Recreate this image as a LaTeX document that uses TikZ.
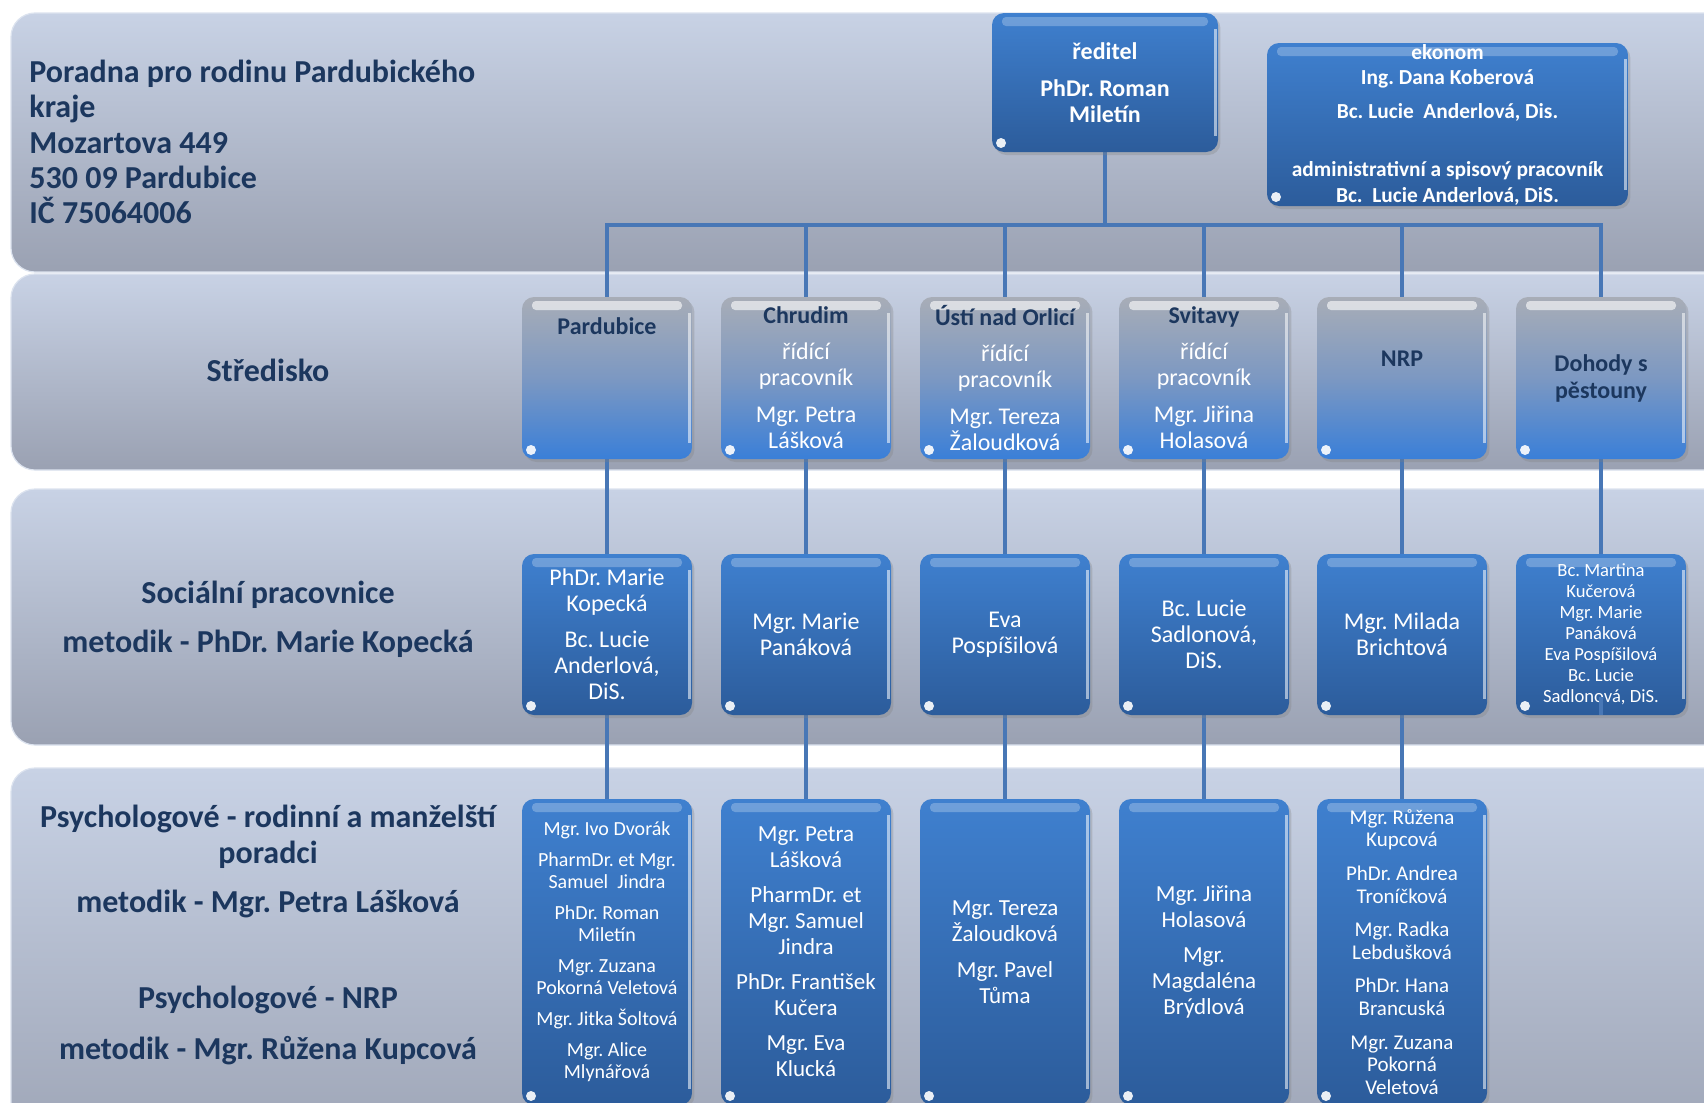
\documentclass[tikz,border=0pt]{standalone}
\usepackage{fontspec}
\setmainfont{Carlito}
\usetikzlibrary{calc,shadows}
\pgfdeclarelayer{bands}
\pgfdeclarelayer{links}
\pgfsetlayers{bands,links,main}
\definecolor{bandtop}{HTML}{C8D2E5}
\definecolor{bandbot}{HTML}{9AA1B2}
\definecolor{bandedge}{HTML}{DCE3EF}
\definecolor{boxtop}{HTML}{3F80CF}
\definecolor{boxbot}{HTML}{2C5C9B}
\definecolor{greytop}{HTML}{A8ADB7}
\definecolor{greymid}{HTML}{7C98C2}
\definecolor{greybot}{HTML}{3A7FD8}
\definecolor{navy}{HTML}{1C375E}
\definecolor{linkc}{HTML}{4877B6}
\tikzset{
  band/.style={rounded corners=12pt, top color=bandtop, bottom color=bandbot, draw=bandedge, line width=.6pt},
  gloss/.style={path picture={
    \fill[white,opacity=#1,rounded corners=2pt]
      ($(path picture bounding box.north west)+(10,4)$) rectangle ($(path picture bounding box.north east)+(-10,13)$);
    \draw[white,opacity=.55,line width=1.2pt]
      ($(path picture bounding box.north east)+(-2.5,16)$) -- ($(path picture bounding box.south east)+(-2.5,-16)$);
    \fill[white,opacity=.9] ($(path picture bounding box.south west)+(9,-9)$) circle[radius=5];
  }},
  boxbase/.style={rounded corners=6pt, inner sep=0pt, align=center, text=white,
    drop shadow={shadow xshift=1.2pt,shadow yshift=-1.5pt,opacity=.3}},
  bluebox/.style={boxbase, top color=boxtop, bottom color=boxbot, gloss=.25},
  greybox/.style={boxbase, top color=greytop, bottom color=greybot, middle color=greymid, gloss=.6},
  colw/.style={minimum width=85pt},
  rowtwo/.style={colw, minimum height=81pt},
  rowthree/.style={colw, minimum height=80.5pt},
  rowfour/.style={colw, minimum height=153pt},
  ftwelve/.style={font=\fontsize{12pt}{13pt}\selectfont},
  ttl/.style={font=\fontsize{12pt}{13pt}\selectfont\bfseries, text=navy, align=center, inner sep=0pt},
  bandlbl/.style={font=\fontsize{16pt}{18pt}\selectfont\bfseries, text=navy, align=center, inner sep=0pt},
  link/.style={draw=linkc, line width=2.2pt},
}
\newcommand\ttlc[1]{\textcolor{navy}{\bfseries #1}}
\begin{document}
\frenchspacing
\begin{tikzpicture}[x=0.5pt,y=-0.5pt]
\useasboundingbox (0,0) rectangle (1704,1103);
\begin{pgfonlayer}{bands}
  \fill[white] (0,0) rectangle (1704,1103);
  \shade[band] (11,13) rectangle (1790,272);
  \shade[band] (11,274) rectangle (1790,470);
  \shade[band] (11,489) rectangle (1790,745);
  \shade[band] (11,768) rectangle (1790,1180);
\end{pgfonlayer}

% band labels
\node[bandlbl, align=left, anchor=west, font=\fontsize{16pt}{17.6pt}\selectfont\bfseries] (addr) at (29,142)
  {Poradna pro rodinu Pardubického\\ kraje\\ Mozartova 449\\ 530 09 Pardubice\\ IČ 75064006};
\node[bandlbl] (lstred) at (268,370) {Středisko};
\node[bandlbl] (lsoc) at (268,619.5) {Sociální pracovnice\\[6.5pt] metodik - PhDr. Marie Kopecká};
\node[bandlbl] (lpsy) at (268,935) {Psychologové - rodinní a manželští\\ poradci\\[6.5pt] metodik - Mgr. Petra Lášková\\[30pt] Psychologové - NRP\\[7.5pt] metodik - Mgr. Růžena Kupcová};

% top boxes
\node[bluebox, minimum width=113pt, minimum height=69.5pt, font=\fontsize{12pt}{13pt}\selectfont\bfseries] (dir) at (1105,82.5)
  {ředitel\\[5.5pt] PhDr. Roman\\ Miletín};
\node[bluebox, minimum width=180.5pt, minimum height=81.5pt, font=\fontsize{10.7pt}{12.75pt}\selectfont\bfseries] (ek) at (1447.5,124.5)
  {ekonom\\ Ing. Dana Koberová\\[4.25pt] Bc. Lucie\ \ Anderlová, Dis.\\[16.25pt] administrativní a spisový pracovník\\ Bc.\ \ Lucie Anderlová, DiS.};

% row 2: Stredisko
\node[greybox, rowtwo] (s1) at (607,378) {};
\node[greybox, rowtwo, ftwelve] (s2) at (806,378) {\ttlc{Chrudim}\\[5pt] řídící\\ pracovník\\[5.5pt] Mgr. Petra\\ Lášková};
\node[greybox, rowtwo, ftwelve] (s3) at (1005,378) {\ttlc{Ústí nad Orlicí}\\[5pt] řídící\\ pracovník\\[5.5pt] Mgr. Tereza\\ Žaloudková};
\node[greybox, rowtwo, ftwelve] (s4) at (1204,378) {\ttlc{Svitavy}\\[5pt] řídící\\ pracovník\\[5.5pt] Mgr. Jiřina\\ Holasová};
\node[greybox, rowtwo] (s5) at (1402,378) {};
\node[greybox, rowtwo, ftwelve] (s6) at (1601,378) {\ttlc{Dohody s}\\[0.5pt] \ttlc{pěstouny}};
\node[ttl] (s1t) at (607,326) {Pardubice};
\node[ttl] (s5t) at (1402,359) {NRP};

% row 3: socialni pracovnice
\node[bluebox, rowthree, ftwelve] (r1) at (607,634.5) {PhDr. Marie\\ Kopecká\\[5pt] Bc. Lucie\\ Anderlová,\\ DiS.};
\node[bluebox, rowthree, ftwelve] (r2) at (806,634.5) {Mgr. Marie\\ Panáková};
\node[bluebox, rowthree, ftwelve] (r3) at (1005,634.5) {Eva\\ Pospíšilová};
\node[bluebox, rowthree, ftwelve] (r4) at (1204,634.5) {Bc. Lucie\\ Sadlonová,\\ DiS.};
\node[bluebox, rowthree, ftwelve] (r5) at (1402,634.5) {Mgr. Milada\\ Brichtová};
\node[bluebox, rowthree, font=\fontsize{9.3pt}{10.5pt}\selectfont] (r6) at (1601,634.5)
  {Bc. Martina\\ Kučerová\\ Mgr. Marie\\ Panáková\\ Eva Pospíšilová\\ Bc. Lucie\\ Sadlonová, DiS.};
\coordinate (stub) at (1601,697);
\draw[link, line width=1.6pt] (stub) -- (r6.south);

% row 4: psychologove
\node[bluebox, rowfour, font=\fontsize{10pt}{11pt}\selectfont] (p1) at (607,952)
  {Mgr. Ivo Dvorák\\[4.5pt] PharmDr. et Mgr.\\ Samuel\ \ Jindra\\[4.5pt] PhDr. Roman\\ Miletín\\[4.5pt] Mgr. Zuzana\\ Pokorná Veletová\\[4.5pt] Mgr. Jitka Šoltová\\[4.5pt] Mgr. Alice\\ Mlynářová};
\node[bluebox, rowfour, font=\fontsize{11.5pt}{13pt}\selectfont] (p2) at (806,952)
  {Mgr. Petra\\ Lášková\\[4.5pt] PharmDr. et\\ Mgr. Samuel\\ Jindra\\[4.5pt] PhDr. František\\ Kučera\\[4.5pt] Mgr. Eva\\ Klucká};
\node[bluebox, rowfour, font=\fontsize{11.5pt}{13pt}\selectfont] (p3) at (1005,952)
  {Mgr. Tereza\\ Žaloudková\\[5pt] Mgr. Pavel\\ Tůma};
\node[bluebox, rowfour, font=\fontsize{11.5pt}{13pt}\selectfont] (p4) at (1204,952)
  {Mgr. Jiřina\\ Holasová\\[4.5pt] Mgr.\\ Magdaléna\\ Brýdlová};
\node[bluebox, rowfour, font=\fontsize{10.5pt}{11.3pt}\selectfont] (p5) at (1402,952)
  {Mgr. Růžena\\ Kupcová\\[5.5pt] PhDr. Andrea\\ Troníčková\\[5.5pt] Mgr. Radka\\ Lebdušková\\[5.5pt] PhDr. Hana\\ Brancuská\\[5.5pt] Mgr. Zuzana\\ Pokorná\\ Veletová};

% connectors
\begin{pgfonlayer}{links}
  \coordinate (bus) at (1105,225);
  \foreach \n in {s1,s2,s3,s4,s5,s6} {\draw[link] (dir.south) -- (bus) -| (\n.north);}
  \foreach \i in {1,...,6} {\draw[link] (s\i.south) -- (r\i.north);}
  \foreach \i in {1,...,5} {\draw[link] (r\i.south) -- (p\i.north);}
\end{pgfonlayer}
\end{tikzpicture}
\end{document}
